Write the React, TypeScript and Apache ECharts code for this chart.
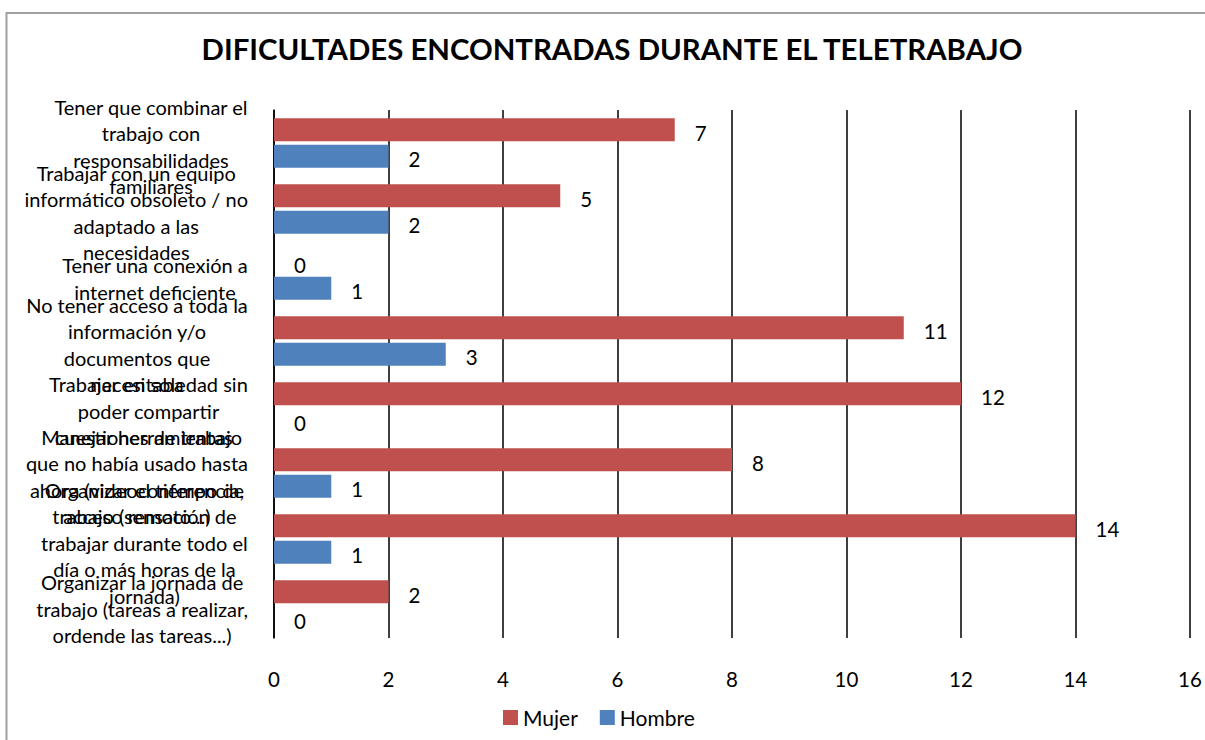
import React, { useEffect, useRef } from "react";
import * as echarts from "echarts";

const categories: string[] = [
  "Tener que combinar el\ntrabajo con\nresponsabilidades\nfamiliares",
  "Trabajar con un equipo\ninformático obsoleto / no\nadaptado a las\nnecesidades",
  "Tener una conexión a\ninternet deficiente",
  "No tener acceso a toda la\ninformación y/o\ndocumentos que\nnecesitaba",
  "Trabajar en soledad sin\npoder compartir\ncuestiones de trabajo",
  "Manejar herramientas\nque no había usado hasta\nahora (videoconferencia,\nacceso remoto...)",
  "Organizar el tiempo de\ntrabajo (sensación de\ntrabajar durante todo el\ndía o más horas de la\njornada)",
  "Organizar la jornada de\ntrabajo (tareas a realizar,\nordende las tareas...)",
];

const mujer: number[] = [7, 5, 0, 11, 12, 8, 14, 2];
const hombre: number[] = [2, 2, 1, 3, 0, 1, 1, 0];

const seriesNames: string[] = ["Mujer", "Hombre"];
const titleText = "DIFICULTADES ENCONTRADAS DURANTE EL TELETRABAJO";

const FONT = "Lato, 'Noto Sans', sans-serif";

export default function App() {
  const ref = useRef<HTMLDivElement>(null);

  useEffect(() => {
    document.body.style.margin = "0";
    if (!ref.current) return;
    const chart = echarts.init(ref.current, null, { renderer: "svg" });
    const labelStyle = {
      show: true,
      position: "right" as const,
      distance: 20,
      offset: [0, 3],
      color: "#000",
      fontSize: 20.5,
      fontFamily: FONT,
    };
    chart.setOption({
      animation: false,
      backgroundColor: "#fff",
      textStyle: { fontFamily: FONT },
      graphic: [
        {
          type: "rect",
          shape: { x: 6.5, y: 13, width: 1210, height: 740 },
          style: { fill: "none", stroke: "#a0a0a0", lineWidth: 2 },
          silent: true,
        },
        {
          type: "text",
          x: 612,
          y: 48,
          style: {
            text: titleText,
            fontFamily: FONT,
            fontWeight: "bold",
            fontSize: 29.4,
            fill: "#000",
            align: "center",
            verticalAlign: "middle",
          },
        },
      ],
      legend: {
        data: seriesNames,
        left: 503,
        top: 707,
        padding: 0,
        icon: "rect",
        itemWidth: 15,
        itemHeight: 15,
        itemGap: 22,
        textStyle: { fontSize: 21, color: "#000", fontFamily: FONT },
      },
      grid: { left: 274, right: 15, top: 110, bottom: 102, containLabel: false },
      xAxis: {
        type: "value",
        min: 0,
        max: 16,
        interval: 2,
        axisLine: { show: false },
        axisTick: { show: false },
        splitLine: { show: true, lineStyle: { color: "#000", width: 1.5 } },
        axisLabel: { margin: 30, fontSize: 20.5, color: "#000", fontFamily: FONT },
      },
      yAxis: {
        type: "category",
        inverse: true,
        data: categories,
        axisLine: { show: true, lineStyle: { color: "#000", width: 1.5 } },
        axisTick: { show: false },
        axisLabel: {
          margin: 26,
          interval: 0,
          padding: [7, 0, 0, 0],
          formatter: (v: string) => `{a|${v}}`,
          rich: {
            a: {
              align: "center",
              fontSize: 20,
              lineHeight: 26.5,
              color: "#000",
              fontFamily: FONT,
            },
          },
        },
      },
      series: [
        {
          name: seriesNames[0],
          type: "bar",
          data: mujer,
          barWidth: 23,
          barGap: "15%",
          itemStyle: { color: "#C0504D" },
          label: labelStyle,
        },
        {
          name: seriesNames[1],
          type: "bar",
          data: hombre,
          barWidth: 23,
          barGap: "15%",
          itemStyle: { color: "#4F81BD" },
          label: labelStyle,
        },
      ],
    });
    return () => chart.dispose();
  }, []);

  return (
    <div
      ref={ref}
      style={{ position: "absolute", left: 0, top: 0, width: 1205, height: 740 }}
    />
  );
}
